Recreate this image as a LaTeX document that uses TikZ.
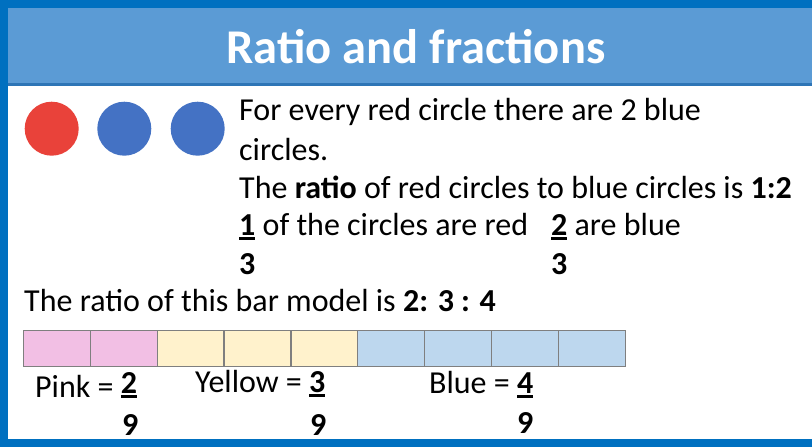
\documentclass[tikz,border=0pt]{standalone}
\usepackage{fontspec}
\setmainfont{Carlito}

\definecolor{framebl}{HTML}{0070C0}
\definecolor{titlebl}{HTML}{5B9BD5}
\definecolor{titleline}{HTML}{2E75B6}
\definecolor{redc}{HTML}{E9423A}
\definecolor{bluec}{HTML}{4472C4}
\definecolor{barpink}{HTML}{F2BFE4}
\definecolor{baryel}{HTML}{FFF2CC}
\definecolor{barblue}{HTML}{BDD7EE}
\definecolor{cellgray}{HTML}{7F7F7F}

% bold numeral with a thick underline
\newcommand\ulnum[1]{\setbox0\hbox{\textbf{#1}}\rlap{\rule[-5pt]{\wd0}{2.7pt}}\box0\relax}

\begin{document}
\begin{tikzpicture}[x=1pt,y=-1pt,
    body/.style={anchor=base west, inner sep=0pt, font=\fontsize{32}{38}\selectfont},
    cell/.style={draw=cellgray, line width=1.2pt, minimum width=66.9pt, minimum height=36pt, inner sep=0pt, anchor=north west}]
    \useasboundingbox (0,0) rectangle (812,447);

    % Draw frame and title bar
    \fill[framebl] (0,0) rectangle (812,447);
    \fill[white] (7.5,7.5) rectangle (812,439);
    \fill[titlebl] (7.5,7.5) rectangle (812,83);
    \fill[titleline] (7.5,83) rectangle (812,85.5);
    \node[anchor=base, inner sep=0pt, text=white, font=\fontsize{48.5}{58}\selectfont\bfseries] (title) at (416,63) {Ratio and fractions};

    % Draw the circles
    \node[circle, fill=redc, minimum size=54pt, inner sep=0pt] (red) at (51.7,128.7) {};
    \foreach \i/\x in {1/124.3, 2/197.7}
        \node[circle, fill=bluec, minimum size=54pt, inner sep=0pt] (blue\i) at (\x,128.7) {};

    % Text about the circles
    \node[body] (line1) at (239,120.7) {For every red circle there are 2 blue};
    \node[body] (line2) at (239,160.7) {circles.};
    \node[body] (line3) at (239,198) {The \textbf{ratio} of red circles to blue circles is \textbf{1:2}};
    \node[body] (line4) at (239,235) {\ulnum{1} of the circles are red};
    \node[body] (line4b) at (551,235) {\ulnum{2} are blue};
    \node[body] (den1) at (239,274) {\textbf{3}};
    \node[body] (den2) at (551,274) {\textbf{3}};

    % Bar model
    \node[body] (barlabel) at (24,311.5) {The ratio of this bar model is \textbf{2: 3 : 4}};
    \foreach \i/\c in {0/barpink, 1/barpink, 2/baryel, 3/baryel, 4/baryel,
                       5/barblue, 6/barblue, 7/barblue, 8/barblue}
        \node[cell, fill=\c] (cell\i) at ({22.7+66.9*\i},330) {};

    % Fractions under the bar
    \node[body] (pink) at (35,397) {Pink = \raisebox{4pt}{\ulnum{2}}};
    \node[body] (yellow) at (195,392) {Yellow = \ulnum{3}};
    \node[body] (blue) at (429,393) {Blue = \ulnum{4}};
    \node[body] (pinkden) at (122,435) {\textbf{9}};
    \node[body] (yellowden) at (310,435) {\textbf{9}};
    \node[body] (blueden) at (517,433) {\textbf{9}};
\end{tikzpicture}
\end{document}
